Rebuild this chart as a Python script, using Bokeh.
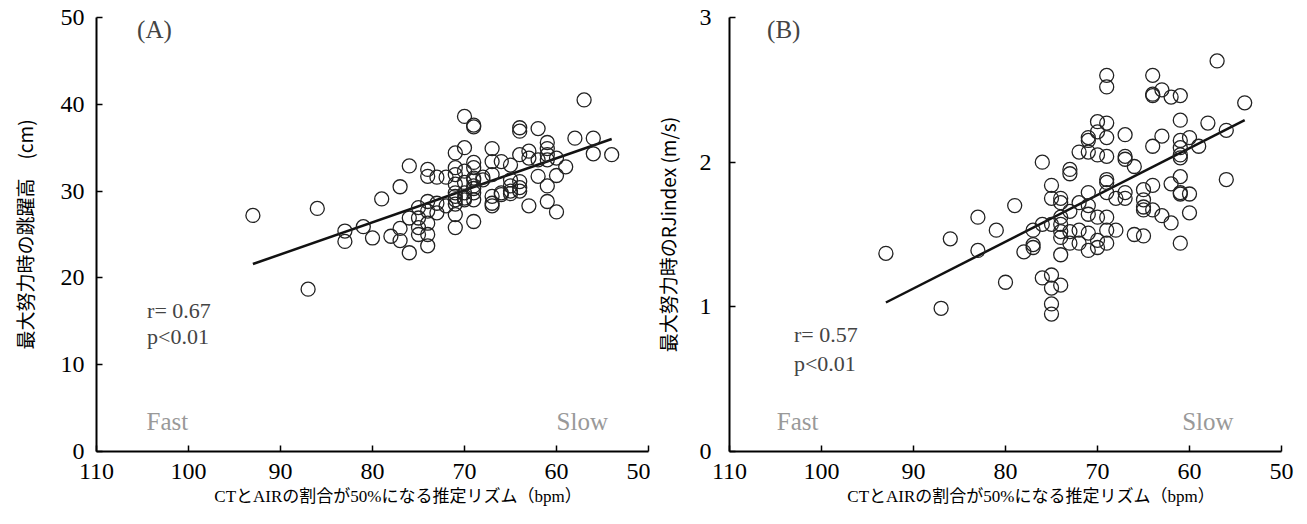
from bokeh.plotting import figure
from bokeh.layouts import row
from bokeh.models import Range1d, FixedTicker, Label
from bokeh.embed import file_html
from bokeh.resources import INLINE

# ---------------- data ----------------
a_bpm = [93, 87, 86, 83, 83, 81, 80, 79, 78, 77, 77, 77, 76, 76, 76, 75, 75, 75, 75,
         74, 74, 74, 74, 74, 74, 74, 73, 73, 73, 72, 72,
         71, 71, 71, 71, 71, 71, 71, 71, 71, 71,
         70, 70, 70, 70, 70, 70, 70,
         69, 69, 69, 69, 69, 69, 69, 69, 69, 69, 69,
         68, 68,
         67, 67, 67, 67, 67, 67,
         66, 66, 66,
         65, 65, 65, 65, 65,
         64, 64, 64, 64, 64, 64,
         63, 63, 63,
         62, 62, 62,
         61, 61, 61, 61, 61, 61,
         60, 60, 60,
         59, 58, 57, 56, 56, 54]
a_jump = [27.2, 18.7, 28.0, 25.4, 24.2, 25.9, 24.6, 29.1, 24.8, 30.5, 25.7, 24.3, 32.9, 26.9, 22.9, 28.1, 26.9, 25.8, 25.0,
          32.5, 31.7, 28.8, 27.7, 26.3, 25.0, 23.7, 31.6, 28.6, 27.5, 31.6, 28.3,
          34.4, 32.7, 31.9, 30.8, 29.8, 29.4, 29.0, 28.5, 27.3, 25.8,
          38.6, 35.0, 32.3, 31.0, 29.8, 29.2, 29.0,
          37.6, 37.4, 33.3, 32.7, 31.5, 31.3, 30.6, 30.3, 29.8, 29.0, 26.5,
          31.3, 31.6,
          34.9, 33.4, 31.9, 29.4, 28.6, 28.3,
          33.4, 29.8, 29.6,
          33.0, 31.3, 30.6, 30.0, 29.7,
          37.3, 36.9, 34.2, 31.1, 30.4, 30.0,
          34.6, 33.8, 28.3,
          37.2, 33.6, 31.7,
          35.6, 34.9, 34.2, 33.6, 30.6, 28.8,
          33.8, 31.8, 27.6,
          32.8, 36.1, 40.5, 36.1, 34.3, 34.2]
a_fit_x = [93, 54]
a_fit_y = [21.6, 36.0]

b_bpm = [93, 87, 86, 83, 83, 81, 80, 79, 78, 77, 77, 77, 76, 76, 76,
         75, 75, 75, 75, 75, 75, 75,
         74, 74, 74, 74, 74, 74, 74, 74,
         73, 73, 73, 73, 73,
         72, 72, 72, 72,
         71, 71, 71, 71, 71, 71, 71, 71,
         70, 70, 70, 70, 70, 70,
         69, 69, 69, 69, 69, 69, 69, 69, 69, 69, 69,
         68, 68,
         67, 67, 67, 67, 67,
         66, 66,
         65, 65, 65, 65, 65,
         64, 64, 64, 64, 64, 64,
         63, 63, 63,
         62, 62, 62,
         61, 61, 61, 61, 61, 61, 61, 61, 61, 61,
         60, 60, 60,
         59, 58, 57, 56, 56, 54]
b_rji = [1.37, 0.99, 1.47, 1.62, 1.39, 1.53, 1.17, 1.70, 1.38, 1.53, 1.43, 1.41, 2.00, 1.57, 1.20,
         1.84, 1.75, 1.57, 1.22, 1.13, 1.02, 0.95,
         1.75, 1.72, 1.62, 1.57, 1.52, 1.48, 1.36, 1.15,
         1.95, 1.92, 1.66, 1.52, 1.44,
         2.07, 1.72, 1.53, 1.44,
         2.17, 2.15, 2.07, 1.79, 1.70, 1.64, 1.51, 1.39,
         2.28, 2.21, 2.05, 1.62, 1.46, 1.41,
         2.60, 2.52, 2.27, 2.17, 2.04, 1.88, 1.86, 1.79, 1.62, 1.53, 1.44,
         1.75, 1.53,
         2.19, 2.04, 2.02, 1.79, 1.75,
         1.97, 1.50,
         1.81, 1.74, 1.69, 1.67, 1.49,
         2.60, 2.47, 2.46, 2.11, 1.84, 1.67,
         2.50, 2.18, 1.63,
         2.45, 1.85, 1.58,
         2.46, 2.29, 2.15, 2.10, 2.05, 2.03, 1.90, 1.79, 1.78, 1.44,
         2.17, 1.78, 1.65,
         2.11, 2.27, 2.70, 2.22, 1.88, 2.41]
b_fit_x = [93, 54]
b_fit_y = [1.03, 2.29]

x_ticks = [110, 100, 90, 80, 70, 60, 50]
a_y_ticks = [0, 10, 20, 30, 40, 50]
b_y_ticks = [0, 1, 2, 3]

x_label = "CTとAIRの割合が50%になる推定リズム（bpm）"
a_y_label = "最大努力時の跳躍高　(cm)"
b_y_label = "最大努力時のRJindex (m/s)"

assert len(a_bpm) == len(a_jump)
assert len(b_bpm) == len(b_rji)

SERIF = "Liberation Serif, Noto Sans CJK JP"
GOTHIC = "Noto Sans CJK JP"


def make_panel(xs, ys, fx, fy, yticks, ymax, ylabel, tag, rtext, tag_pos, r_pos, p_pos, fs_y,
               left, right, ylab_standoff, tick_standoff):
    p = figure(frame_width=552, frame_height=434, output_backend="svg", toolbar_location=None,
               x_range=Range1d(110, 50), y_range=Range1d(0, ymax),
               min_border_left=left, min_border_right=right, min_border_top=17,
               min_border_bottom=62)
    p.outline_line_color = None
    p.grid.visible = False
    p.background_fill_color = "white"
    p.border_fill_color = "white"

    for ax in (p.xaxis[0], p.yaxis[0]):
        ax.axis_line_color = "black"
        ax.axis_line_width = 2
        ax.major_tick_line_color = "black"
        ax.major_tick_line_width = 1.5
        ax.major_tick_in = 6
        ax.major_tick_out = 0
        ax.minor_tick_line_color = None
        ax.major_label_text_font = "Liberation Serif"
        ax.major_label_text_font_size = "24px"
        ax.major_label_text_color = "black"

    p.xaxis.ticker = FixedTicker(ticks=x_ticks)
    p.yaxis.ticker = FixedTicker(ticks=yticks)
    p.xaxis.major_label_standoff = 12
    p.yaxis.major_label_standoff = tick_standoff

    p.xaxis.axis_label = "\u3000\u3000\u3000" + x_label
    p.xaxis.axis_label_text_font = SERIF
    p.xaxis.axis_label_text_font_size = "17px"
    p.xaxis.axis_label_text_font_style = "normal"
    p.xaxis.axis_label_text_color = "black"
    p.xaxis.axis_label_standoff = 5

    p.yaxis.axis_label = ylabel
    p.yaxis.axis_label_text_font = GOTHIC + ", Liberation Serif"
    p.yaxis.axis_label_text_font_size = fs_y
    p.yaxis.axis_label_text_font_style = "normal"
    p.yaxis.axis_label_text_color = "black"
    p.yaxis.axis_label_standoff = ylab_standoff

    p.line(fx, fy, line_color="#111111", line_width=2.5)
    p.scatter(xs, ys, marker="circle", size=14, fill_color=None, line_color="#222222", line_width=1.3)

    p.add_layout(Label(x=tag_pos[0], y=tag_pos[1], text=tag, text_font="Liberation Serif",
                       text_font_size="25px", text_align="center", text_baseline="middle"))
    p.add_layout(Label(x=r_pos[0], y=r_pos[1], text=rtext, text_font="Liberation Serif",
                       text_font_size="22px", text_align="left", text_baseline="middle"))
    p.add_layout(Label(x=p_pos[0], y=p_pos[1], text="p<0.01", text_font="Liberation Serif",
                       text_font_size="22px", text_align="left", text_baseline="middle"))
    return p


pa = make_panel(a_bpm, a_jump, a_fit_x, a_fit_y, a_y_ticks, 50, a_y_label, "(A)", "r= 0.67",
                (103.7, 48.6), (104.5, 16.2), (104.5, 13.2), "19px", 96, 2, 20, 12)
pa.add_layout(Label(x=102.3, y=3.5, text="Fast", text_font="Liberation Serif", text_font_size="25px",
                    text_color="#999999", text_align="center", text_baseline="middle"))
pa.add_layout(Label(x=57.2, y=3.5, text="Slow", text_font="Liberation Serif", text_font_size="25px",
                    text_color="#999999", text_align="center", text_baseline="middle"))

pb = make_panel(b_bpm, b_rji, b_fit_x, b_fit_y, b_y_ticks, 3, b_y_label, "(B)", "r= 0.57",
                (104.1, 2.92), (103.0, 0.81), (103.0, 0.61), "19px", 70, 15, 16, 18)
pb.add_layout(Label(x=102.6, y=0.21, text="Fast", text_font="Liberation Serif", text_font_size="25px",
                    text_color="#999999", text_align="center", text_baseline="middle"))
pb.add_layout(Label(x=58.0, y=0.21, text="Slow", text_font="Liberation Serif", text_font_size="25px",
                    text_color="#999999", text_align="center", text_baseline="middle"))

layout = row(pa, pb, spacing=0)
open("out.html", "w").write(file_html(layout, INLINE))
